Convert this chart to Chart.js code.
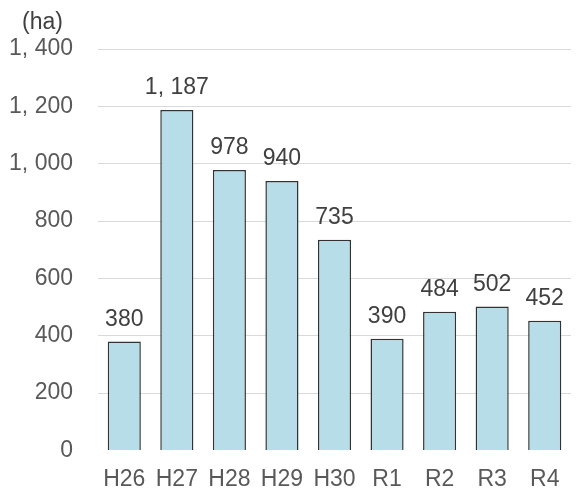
<!DOCTYPE html>
<html>
<head>
<meta charset="utf-8">
<script src="https://cdn.jsdelivr.net/npm/chart.js@4/dist/chart.umd.min.js"></script>
<style>
  html, body { margin: 0; padding: 0; background: #ffffff; }
  #wrap { width: 582px; height: 492px; }
</style>
</head>
<body>
<div id="wrap"><canvas id="c" width="582" height="492"></canvas></div>
<script>
// Fiscal years (Heisei / Reiwa) and area in hectares
const years = ['H26', 'H27', 'H28', 'H29', 'H30', 'R1', 'R2', 'R3', 'R4'];
const areaHa = [380, 1187, 978, 940, 735, 390, 484, 502, 452];
const yTicks = [0, 200, 400, 600, 800, 1000, 1200, 1400];
const unitLabel = '(ha)';

const FONT = "'Liberation Sans', 'DejaVu Sans', sans-serif";
const FONT_SIZE = 23;

// thousands separator written as ", " like the axis labels
function fmt(v) {
  return String(v).replace(/\B(?=(\d{3})+(?!\d))/g, ', ');
}

const valueLabels = {
  id: 'valueLabels',
  afterDatasetsDraw(chart) {
    const ctx = chart.ctx;
    const meta = chart.getDatasetMeta(0);
    ctx.save();
    ctx.font = FONT_SIZE + 'px ' + FONT;
    ctx.fillStyle = '#404040';
    ctx.textAlign = 'center';
    ctx.textBaseline = 'alphabetic';
    meta.data.forEach((bar, i) => {
      ctx.fillText(fmt(areaHa[i]), bar.x, bar.y - 16);
    });
    // unit caption above the value axis
    ctx.textAlign = 'left';
    ctx.fillText(unitLabel, 22, 29);
    ctx.restore();
  }
};

new Chart(document.getElementById('c'), {
  type: 'bar',
  data: {
    labels: years,
    datasets: [{
      data: areaHa,
      backgroundColor: '#b7dde8',
      borderColor: '#333333',
      borderWidth: 1.5,
      barPercentage: 0.63,
      categoryPercentage: 1.0
    }]
  },
  options: {
    responsive: false,
    animation: false,
    devicePixelRatio: 1,
    layout: { padding: { top: 49, right: 11, left: 0, bottom: 0 } },
    plugins: { legend: { display: false }, tooltip: { enabled: false } },
    scales: {
      x: {
        grid: { display: false },
        border: { display: false },
        ticks: {
          color: '#595959',
          font: { family: FONT, size: FONT_SIZE },
          padding: 7,
          maxRotation: 0
        },
        afterFit(scale) { scale.height = 41.5; }
      },
      y: {
        min: 0,
        max: 1400,
        border: { display: false },
        grid: {
          color: (c) => (c.tick && c.tick.value === 0) ? 'rgba(0,0,0,0)' : '#d9d9d9',
          lineWidth: 1,
          drawTicks: false
        },
        afterBuildTicks(scale) {
          scale.ticks = yTicks.map(v => ({ value: v }));
        },
        ticks: {
          color: '#595959',
          font: { family: FONT, size: FONT_SIZE },
          padding: 25,
          callback: (v) => fmt(v)
        },
        afterFit(scale) { scale.width = 98; }
      }
    }
  },
  plugins: [valueLabels]
});
</script>
</body>
</html>
